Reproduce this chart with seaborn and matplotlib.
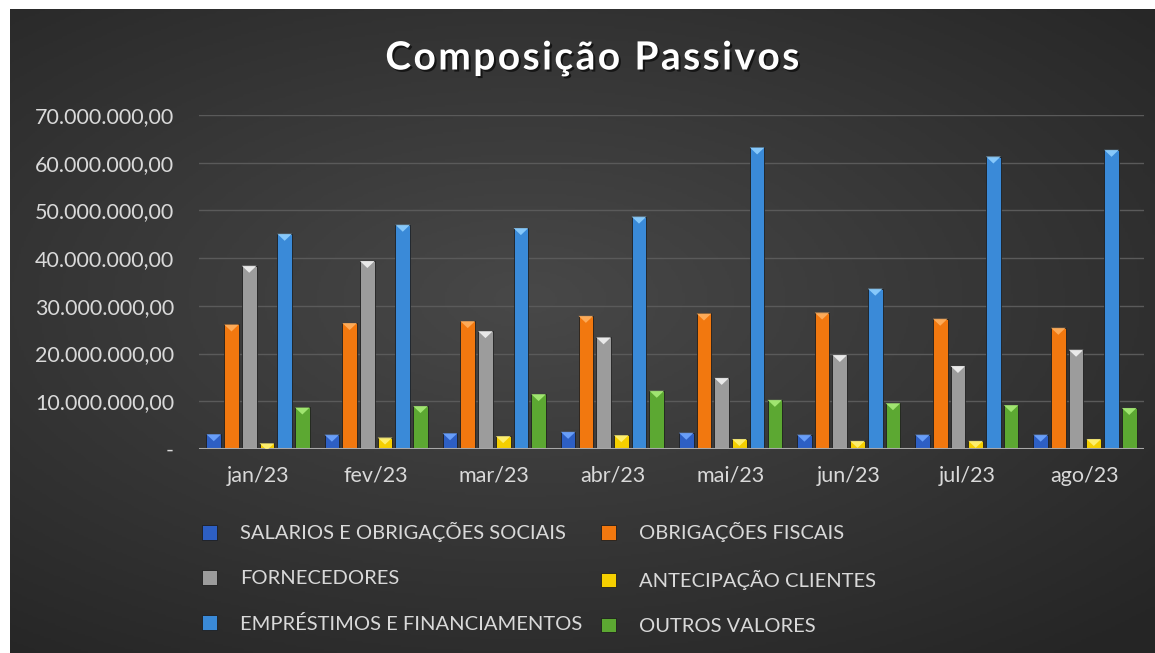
import numpy as np
import pandas as pd
import seaborn as sns
import matplotlib.pyplot as plt
from matplotlib.patches import Polygon
from matplotlib.ticker import FuncFormatter
import matplotlib.patheffects as pe

# Data
meses = ['jan/23', 'fev/23', 'mar/23', 'abr/23', 'mai/23', 'jun/23', 'jul/23', 'ago/23']
series = ['SALARIOS E OBRIGAÇÕES SOCIAIS', 'OBRIGAÇÕES FISCAIS', 'FORNECEDORES',
          'ANTECIPAÇÃO CLIENTES', 'EMPRÉSTIMOS E FINANCIAMENTOS', 'OUTROS VALORES']
salarios = [3.1e6, 3.0e6, 3.3e6, 3.6e6, 3.4e6, 3.0e6, 3.0e6, 3.0e6]
fiscais = [26.1e6, 26.4e6, 26.8e6, 27.9e6, 28.4e6, 28.6e6, 27.3e6, 25.4e6]
fornecedores = [38.4e6, 39.4e6, 24.7e6, 23.4e6, 14.9e6, 19.7e6, 17.4e6, 20.8e6]
antecipacao = [1.2e6, 2.4e6, 2.7e6, 2.9e6, 2.1e6, 1.7e6, 1.7e6, 2.1e6]
emprestimos = [45.1e6, 47.0e6, 46.3e6, 48.7e6, 63.2e6, 33.6e6, 61.3e6, 62.7e6]
outros = [8.7e6, 9.0e6, 11.5e6, 12.2e6, 10.3e6, 9.6e6, 9.2e6, 8.6e6]
cores = ['#2d5fc4', '#f2780f', '#9c9c9c', '#f5cf00', '#3a8ad8', '#5ca832']
topo = ['#6fa6ff', '#ffb060', '#f2f2f2', '#fff27a', '#8fd0ff', '#a8ec78']

valores = [salarios, fiscais, fornecedores, antecipacao, emprestimos, outros]
df = pd.DataFrame([(m, s, v[i]) for s, v in zip(series, valores) for i, m in enumerate(meses)],
                  columns=['mes', 'serie', 'valor'])

W, H = 1155, 653
fig = plt.figure(figsize=(W / 100, H / 100), dpi=100, facecolor='white')
plt.rcParams['font.family'] = ['Lato', 'DejaVu Sans']

# dark radial gradient background
bg = fig.add_axes([10 / W, 0, 1 - 10 / W, 1 - 9 / H], zorder=-5)
yy, xx = np.mgrid[-1:1:300j, -1:1:500j]
r = np.sqrt(((xx + 0.1) / 1.1) ** 2 + ((yy + 0.1) / 1.0) ** 2)
bg.imshow(np.clip(r, 0, 1.4), cmap=sns.dark_palette('#525252', as_cmap=True).reversed(),
          vmin=-0.4, vmax=1.4, aspect='auto', extent=[0, 1, 0, 1])
bg.set_axis_off()

ax = fig.add_axes([199 / W, 1 - 449 / H, (1144 - 199) / W, (449 - 115) / H])
ax.set_facecolor('none')
sns.barplot(data=df, x='mes', y='valor', hue='serie', palette=cores, width=0.9, gap=0.17,
            saturation=1, ax=ax, zorder=3, edgecolor='#1e1e1e', linewidth=0.6)

ax.set_ylim(0, 70e6)
ax.set_yticks(np.arange(0, 70e6 + 1, 10e6))
ax.yaxis.set_major_formatter(FuncFormatter(
    lambda v, p: '-' if v == 0 else f'{v:,.2f}'.replace(',', 'X').replace('.', ',').replace('X', '.')))
ax.grid(axis='y', color='#5a5a5a', linewidth=1, zorder=0)
ax.set_axisbelow(True)
for s in ax.spines.values():
    s.set_visible(False)
ax.axhline(0, color='#a8a8a8', linewidth=2.2, zorder=4)
ax.tick_params(length=0, colors='#d9d9d9', labelsize=15.5)
ax.tick_params(axis='y', pad=18)
ax.tick_params(axis='x', pad=12)
ax.set_xlabel('')
ax.set_ylabel('')

# bevel caps on the bars
fig.canvas.draw()
px = 70e6 / ax.get_window_extent().height
ncat = len(meses)
for k, bar in enumerate(ax.patches[:ncat * len(series)]):
    s = k // ncat
    x0, w, h = bar.get_x(), bar.get_width(), bar.get_height()
    th = 7 * px
    ax.add_patch(Polygon([(x0, h), (x0 + w, h), (x0 + w / 2, h - th)], closed=True,
                         facecolor=topo[s], edgecolor='none', zorder=4, alpha=0.9))

# legend in two columns, row-major order
handles, labels = ax.get_legend_handles_labels()
ordem = [0, 2, 4, 1, 3, 5]
leg = ax.legend([handles[i] for i in ordem], [labels[i] for i in ordem], ncol=2,
                loc='upper left', bbox_to_anchor=(-0.016, -0.165), frameon=False,
                fontsize=14.5, labelcolor='#d9d9d9', handlelength=0.75, handleheight=0.75,
                handletextpad=1.15, columnspacing=0.9, labelspacing=1.37)

titulo = '\u200a'.join('Composição Passivos')
fig.text(0.512, 1 - 58 / H, titulo, ha='center', va='center', color='white',
         fontsize=28, fontweight='bold',
         path_effects=[pe.withSimplePatchShadow(offset=(1.5, -1.5), shadow_rgbFace='black', alpha=0.6)])

fig.savefig('out.png', dpi=100, facecolor='white')
